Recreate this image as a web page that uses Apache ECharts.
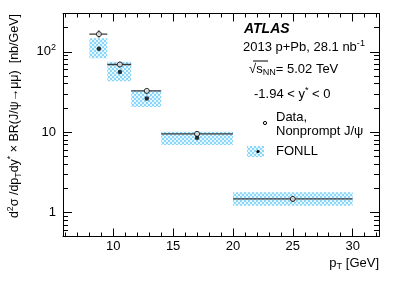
<!DOCTYPE html>
<html><head><meta charset="utf-8">
<script src="https://cdn.jsdelivr.net/npm/echarts@6/dist/echarts.min.js"></script>
<style>html,body{margin:0;padding:0;background:#fff}#c{width:399px;height:281px}</style>
</head><body><div id="c"></div>
<script>
// ---- data ----
const binLow   = [8, 9.5, 11.5, 14, 20];
const binHigh  = [9.5, 11.5, 14, 20, 30];
const dataPt   = [8.8, 10.55, 12.8, 17.0, 25.0];
const dataVal  = [166, 69.5, 32.6, 9.5, 1.47];
const dataErrLo = [150, 64, 30.2, 8.8, 1.36];
const dataErrHi = [185, 75, 35.2, 10.3, 1.6];
const fonllVal = [109, 56, 26.2, 8.5, 1.45];
const fonllLo  = [83, 43, 20.5, 6.9, 1.21];
const fonllHi  = [147, 75, 33.2, 10.1, 1.78];
// ---- axis ticks ----
const xMajorTicks = [10, 15, 20, 25, 30];
const xMinorTicks = [6,7,8,9,11,12,13,14,16,17,18,19,21,22,23,24,26,27,28,29,31,32];
const yMajorTicks = [1, 10, 100];
const yMinorTicks = [0.6,0.7,0.8,0.9,2,3,4,5,6,7,8,9,20,30,40,50,60,70,80,90,200];
const xRange = [5.8, 32.2];
const yRange = [0.5, 300];

const FF = 'Liberation Sans, Arial, Helvetica, sans-serif';
const FS = 13;

const pc = document.createElement('canvas'); pc.width = 4; pc.height = 4;
const g2 = pc.getContext('2d');
g2.fillStyle = '#e6f7fe'; g2.fillRect(0, 0, 4, 4);
g2.fillStyle = '#8ad6fa'; g2.fillRect(0, 0, 2, 2); g2.fillRect(2, 2, 2, 2);
const hatch = { image: pc, repeat: 'repeat' };

function xAx(pos, ticks, len, labels, line) {
  return {
    type: 'value', position: pos, min: xRange[0], max: xRange[1],
    axisLine: { show: line, onZero: false, lineStyle: { color: '#000', width: 1 } },
    axisTick: { show: true, inside: true, length: len, customValues: ticks, lineStyle: { color: '#000', width: 1 } },
    axisLabel: labels ? { show: true, customValues: ticks, margin: 3, color: '#000', fontFamily: FF, fontSize: FS } : { show: false },
    splitLine: { show: false }
  };
}
function yAx(pos, ticks, len, labels, line) {
  return {
    type: 'log', logBase: 10, position: pos, min: yRange[0], max: yRange[1],
    axisLine: { show: line, onZero: false, lineStyle: { color: '#000', width: 1 } },
    axisTick: { show: true, inside: true, length: len, customValues: ticks, lineStyle: { color: '#000', width: 1 } },
    axisLabel: labels ? {
      show: true, customValues: ticks, margin: 7, color: '#000', fontFamily: FF, fontSize: FS,
      formatter: v => { const r = Math.round(v); return r === 100 ? '{b|10}{s|2}' : '{b|' + r + '}'; },
      rich: { b: { fontSize: FS, fontFamily: FF, color: '#000' }, s: { fontSize: 9, fontFamily: FF, color: '#000', padding: [0, 0, 8, 0] } }
    } : { show: false },
    splitLine: { show: false }
  };
}

const boxData = binLow.map((l, i) => [l, binHigh[i], fonllLo[i], fonllHi[i]]);
const errData = dataPt.map((x, i) => [x, binLow[i], binHigh[i], dataVal[i], dataErrLo[i], dataErrHi[i]]);

function mkRich(fs) {
  return {
    a: { fontSize: fs, fontFamily: FF, color: '#000' },
    sup: { fontSize: fs * 0.7, fontFamily: FF, color: '#000', padding: [0, 0, 8, 0] },
    sub: { fontSize: fs * 0.7, fontFamily: FF, color: '#000', padding: [7, 0, 0, 0] }
  };
}
const rich = mkRich(FS);

const chart = echarts.init(document.getElementById('c'), null, { renderer: 'canvas' });
chart.setOption({
  animation: false,
  backgroundColor: '#fff',
  grid: { left: 63, right: 20, top: 13.5, height: 223 },
  xAxis: [
    xAx('bottom', xMajorTicks, 8, true, true),
    xAx('bottom', xMinorTicks, 4, false, false),
    xAx('top', xMajorTicks, 8, false, true),
    xAx('top', xMinorTicks, 4, false, false)
  ],
  yAxis: [
    yAx('left', yMajorTicks, 9, true, true),
    yAx('left', yMinorTicks, 5, false, false),
    yAx('right', yMajorTicks, 9, false, true),
    yAx('right', yMinorTicks, 5, false, false)
  ],
  series: [
    {
      type: 'custom', name: 'FONLL band', xAxisIndex: 0, yAxisIndex: 0, z: 2,
      encode: { x: [0, 1], y: [2, 3] }, clip: true,
      renderItem: (params, api) => {
        const a = api.coord([api.value(0), api.value(3)]);
        const b = api.coord([api.value(1), api.value(2)]);
        return { type: 'rect', shape: { x: a[0], y: a[1], width: b[0] - a[0], height: b[1] - a[1] }, style: { fill: hatch } };
      },
      data: boxData
    },
    {
      type: 'custom', name: 'Data errors', xAxisIndex: 0, yAxisIndex: 0, z: 3,
      encode: { x: [1, 2], y: [4, 5] }, clip: true,
      renderItem: (params, api) => {
        const l = api.coord([api.value(1), api.value(3)]);
        const r = api.coord([api.value(2), api.value(3)]);
        const lo = api.coord([api.value(0), api.value(4)]);
        const hi = api.coord([api.value(0), api.value(5)]);
        return { type: 'group', children: [
          { type: 'line', shape: { x1: l[0], y1: l[1], x2: r[0], y2: r[1] }, style: { stroke: '#3a3a3a', lineWidth: 1.3 } },
          { type: 'line', shape: { x1: lo[0], y1: lo[1], x2: hi[0], y2: hi[1] }, style: { stroke: '#000', lineWidth: 1 } }
        ] };
      },
      data: errData
    },
    {
      type: 'scatter', name: 'FONLL', xAxisIndex: 0, yAxisIndex: 0, z: 4,
      symbol: 'circle', symbolSize: 4.5, itemStyle: { color: '#000' },
      data: dataPt.map((x, i) => [x, fonllVal[i]])
    },
    {
      type: 'scatter', name: 'Data', xAxisIndex: 0, yAxisIndex: 0, z: 5,
      symbol: 'circle', symbolSize: 5, itemStyle: { color: '#fff', borderColor: '#000', borderWidth: 1 },
      data: dataPt.map((x, i) => [x, dataVal[i]])
    }
  ],
  graphic: [
    { type: 'text', x: 15, y: 14, rotation: Math.PI / 2, style: {
        text: '{a|d}{sup|2}{a|σ /dp}{sub|T}{a|dy}{sup|*}{a| × BR(J/ψ→μμ)  [nb/GeV]}',
        rich: mkRich(12.5), align: 'right', verticalAlign: 'middle' } },
    { type: 'text', x: 379, y: 263, style: {
        text: '{a|p}{sub|T}{a| [GeV]}', rich: rich, align: 'right', verticalAlign: 'middle' } },
    { type: 'text', x: 244, y: 29, style: {
        text: 'ATLAS', fontFamily: FF, fontSize: 14, fontWeight: 'bold', fontStyle: 'italic', fill: '#000', verticalAlign: 'middle' } },
    { type: 'text', x: 243, y: 47, style: {
        text: '{a|2013 p+Pb, 28.1 nb}{sup|-1}', rich: rich, verticalAlign: 'middle' } },
    { type: 'text', x: 249, y: 69, style: {
        text: '{a|√s}{sub|NN}{a|= 5.02 TeV}', rich: rich, verticalAlign: 'middle' } },
    { type: 'line', shape: { x1: 253, y1: 61, x2: 268, y2: 61 }, style: { stroke: '#000', lineWidth: 1 } },
    { type: 'text', x: 254, y: 94, style: {
        text: '{a|-1.94 < y}{sup|*}{a| < 0}', rich: rich, verticalAlign: 'middle' } },
    { type: 'circle', shape: { cx: 265, cy: 123, r: 1.6 }, style: { fill: '#fff', stroke: '#000', lineWidth: 1 } },
    { type: 'text', x: 276, y: 117, style: { text: 'Data,', fontFamily: FF, fontSize: FS, fill: '#000', verticalAlign: 'middle' } },
    { type: 'text', x: 276, y: 131, style: { text: 'Nonprompt J/ψ', fontFamily: FF, fontSize: FS, fill: '#000', verticalAlign: 'middle' } },
    { type: 'rect', shape: { x: 247, y: 146, width: 17, height: 11 }, style: { fill: hatch } },
    { type: 'circle', shape: { cx: 258, cy: 151.5, r: 1.6 }, style: { fill: '#000' } },
    { type: 'text', x: 276, y: 151.5, style: { text: 'FONLL', fontFamily: FF, fontSize: FS, fill: '#000', verticalAlign: 'middle' } }
  ]
});
</script></body></html>
